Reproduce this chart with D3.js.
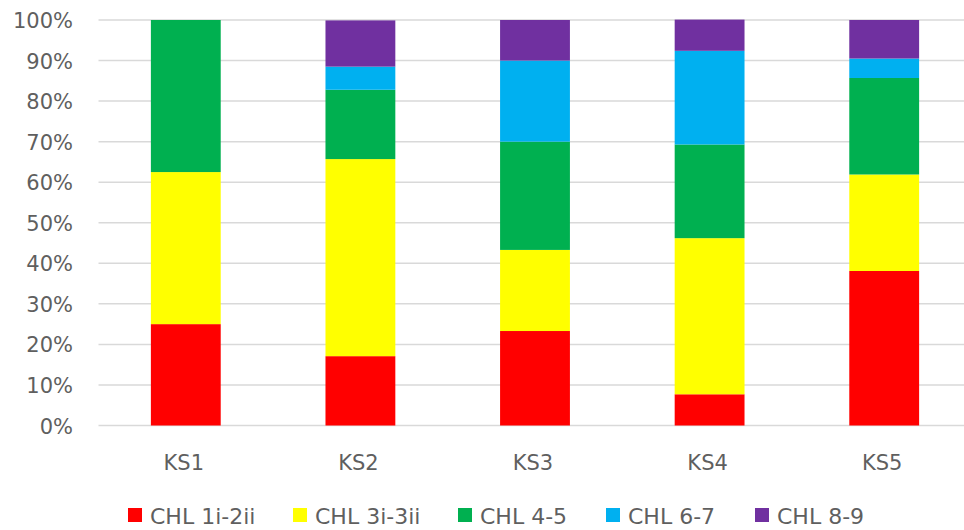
<!DOCTYPE html>
<html>
<head>
<meta charset="utf-8">
<script src="https://cdn.jsdelivr.net/npm/d3@7"></script>
<style>
  html, body { margin: 0; padding: 0; background: #fff; }
  svg text { font-family: "DejaVu Sans", sans-serif; fill: #5f5f5f; }
</style>
</head>
<body>
<svg id="chart" width="964" height="530"></svg>
<script>
// Key stages along the x axis
const categories = ["KS1", "KS2", "KS3", "KS4", "KS5"];

// Share of pupils in each CHL band, per key stage (%)
const chl1i2ii = [25.0, 17.1, 23.3, 7.7, 38.1];
const chl3i3ii = [37.5, 48.6, 20.0, 38.5, 23.8];
const chl45    = [37.5, 17.1, 26.7, 23.1, 23.8];
const chl67    = [0.0, 5.7, 20.0, 23.1, 4.8];
const chl89    = [0.0, 11.4, 10.0, 7.7, 9.5];

const seriesNames = ["CHL 1i-2ii", "CHL 3i-3ii", "CHL 4-5", "CHL 6-7", "CHL 8-9"];
const seriesColors = ["#ff0000", "#ffff00", "#00b050", "#00b0f0", "#7030a0"];

const yTicks = [0, 10, 20, 30, 40, 50, 60, 70, 80, 90, 100];

const seriesValues = [chl1i2ii, chl3i3ii, chl45, chl67, chl89];
const rows = categories.map((c, i) => {
  const r = { cat: c };
  seriesNames.forEach((s, k) => { r[s] = seriesValues[k][i]; });
  return r;
});

const svg = d3.select("#chart");
const margin = { left: 98.5, right: -7.5, top: 20, bottom: 104.5 };
const W = 964, H = 530;

const x = d3.scaleBand()
  .domain(categories)
  .range([margin.left, W - margin.right])
  .paddingInner(0.6)
  .paddingOuter(0.3);

const y = d3.scaleLinear()
  .domain([0, 100])
  .range([H - margin.bottom, margin.top]);

// horizontal gridlines
svg.append("g")
  .selectAll("line")
  .data(yTicks)
  .join("line")
  .attr("x1", margin.left)
  .attr("x2", W - margin.right)
  .attr("y1", d => y(d))
  .attr("y2", d => y(d))
  .attr("stroke", "#d9d9d9")
  .attr("stroke-width", 1.5);

// y axis labels
const yAxis = d3.axisLeft(y).tickValues(yTicks).tickFormat(d => d + "%").tickSize(0).tickPadding(0);
const gy = svg.append("g").attr("transform", `translate(73,0)`).call(yAxis);
gy.select(".domain").remove();
gy.attr("font-family", null).attr("font-size", null);
gy.selectAll("text")
  .attr("font-size", 21)
  .attr("dy", "0.36em");

// stacked bars
const stack = d3.stack().keys(seriesNames);
const layers = stack(rows);

svg.append("g")
  .selectAll("g")
  .data(layers)
  .join("g")
  .attr("fill", (d, i) => seriesColors[i])
  .selectAll("rect")
  .data(d => d)
  .join("rect")
  .attr("x", d => x(d.data.cat))
  .attr("width", x.bandwidth())
  .attr("y", d => y(d[1]))
  .attr("height", d => y(d[0]) - y(d[1]));

// x axis labels
const xAxis = d3.axisBottom(x).tickSize(0).tickPadding(0);
const gx = svg.append("g").attr("transform", `translate(0,${H - margin.bottom})`).call(xAxis);
gx.select(".domain").remove();
gx.attr("font-family", null).attr("font-size", null);
gx.selectAll("text")
  .attr("font-size", 21)
  .attr("x", -2)
  .attr("y", 44)
  .attr("dy", 0);

// legend
const legendX = [128, 293, 458, 606, 755];
const legend = svg.append("g")
  .selectAll("g")
  .data(seriesNames)
  .join("g")
  .attr("transform", (d, i) => `translate(${legendX[i]},508)`);
legend.append("rect")
  .attr("width", 14)
  .attr("height", 14)
  .attr("fill", (d, i) => seriesColors[i]);
legend.append("text")
  .attr("x", 22)
  .attr("y", 16)
  .attr("font-size", 22)
  .text(d => d);
</script>
</body>
</html>
